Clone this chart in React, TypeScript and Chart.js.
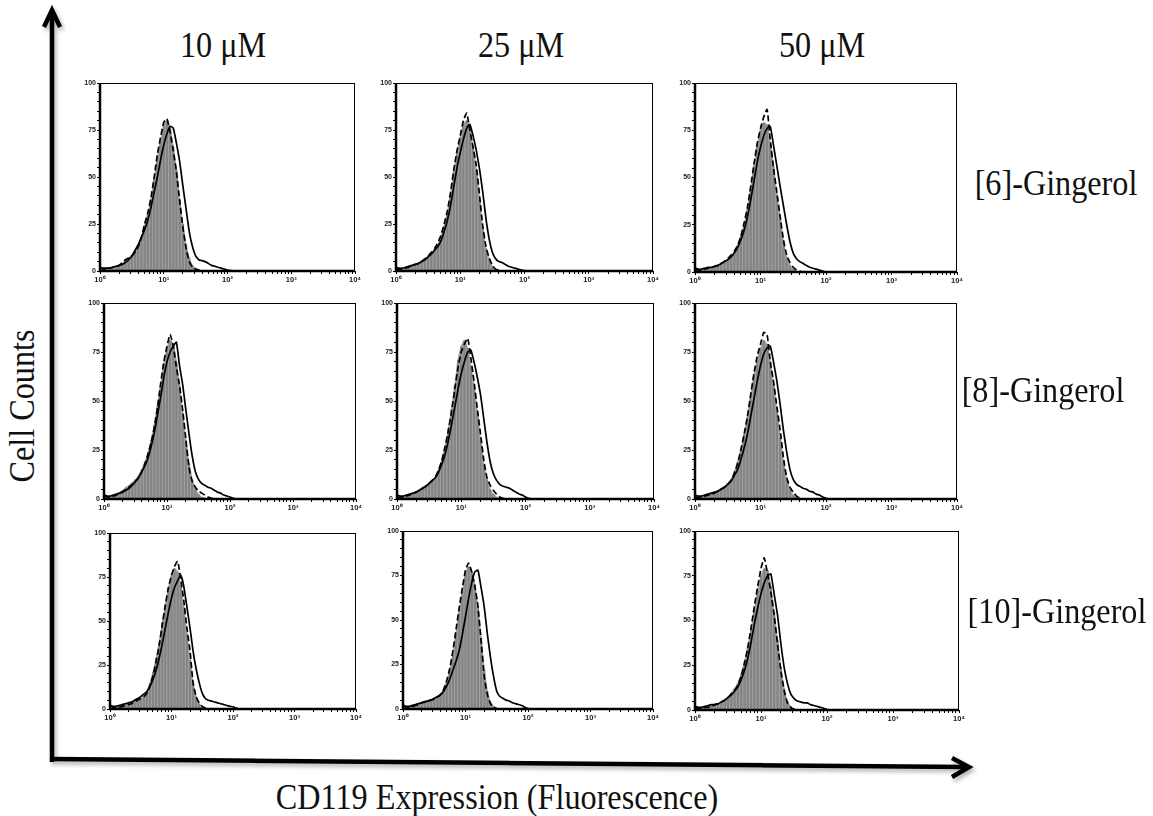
import React, { useEffect, useRef } from 'react';
import { Chart, registerables } from 'chart.js';

Chart.register(...registerables);

// ---------- data ----------
const CONCENTRATIONS = ['10 μM', '25 μM', '50 μM'];
const COMPOUNDS = ['[6]-Gingerol', '[8]-Gingerol', '[10]-Gingerol'];
const Y_TITLE = 'Cell Counts';
const X_TITLE = 'CD119 Expression (Fluorescence)';

// histogram bin centres (fluorescence, log-spaced channels)
const BIN_CENTERS = [1.0, 1.12, 1.26, 1.41, 1.58, 1.78, 2.0, 2.24, 2.51, 2.82, 3.16, 3.55, 3.98, 4.47, 5.01, 5.62, 6.31, 7.08, 7.94, 8.91, 10.0, 11.2, 12.6, 14.1, 15.8, 17.8, 20.0, 22.4, 25.1, 28.2, 31.6, 35.5, 39.8, 44.7, 50.1, 56.2, 63.1, 70.8, 79.4, 89.1, 100, 112, 126, 141, 158];

const X_TICK_VALUES = [1, 2, 3, 4, 5, 6, 7, 8, 9, 10, 20, 30, 40, 50, 60, 70, 80, 90, 100, 200, 300, 400, 500, 600, 700, 800, 900, 1000, 2000, 3000, 4000, 5000, 6000, 7000, 8000, 9000, 10000];
const X_TICK_LABELS: Record<number, string> = { 1: '10⁰', 10: '10¹', 100: '10²', 1000: '10³', 10000: '10⁴' };
const Y_TICK_VALUES = [0, 5, 10, 15, 20, 25, 30, 35, 40, 45, 50, 55, 60, 65, 70, 75, 80, 85, 90, 95, 100];
const Y_TICK_LABELS: Record<number, string> = { 0: '0', 25: '25', 50: '50', 75: '75', 100: '100' };

// [6]-Gingerol
const shaded_6_10 = [1, 1, 1.5, 1.5, 2, 2.5, 3, 4, 5.5, 7, 8.5, 11, 14, 18, 24, 30, 38, 49, 60, 69, 77, 80, 76, 66, 54, 38, 25, 14, 7, 3, 1.5, 0.5, 0.3, 0, 0, 0, 0, 0, 0, 0, 0, 0, 0, 0, 0];
const dashed_6_10 = [2, 1, 1, 1.5, 2, 2, 3, 4.5, 6, 7, 8, 10, 13, 18, 25, 31, 39, 50, 62, 71, 79, 81, 74, 64, 53, 37, 23, 12, 5, 2, 1, 0.5, 0, 0, 0, 0, 0, 0, 0, 0, 0, 0, 0, 0, 0];
const solid_6_10 = [2, 1.5, 1.5, 1.5, 2, 2.5, 3, 3.5, 4.5, 6, 8, 11, 14, 18, 22, 27, 34, 42, 50, 59, 67, 73, 77, 76, 68, 58, 45, 33, 21, 13, 8, 6, 5.5, 5, 4, 3, 2.5, 2, 1.5, 1, 0.5, 0.2, 0, 0, 0];

const shaded_6_25 = [2, 1, 1.5, 2, 2.5, 3, 3.5, 4.5, 5.5, 6.5, 8, 9.5, 11.5, 14, 18, 24, 31, 41, 53, 63, 71, 78, 80, 76, 66, 54, 38, 22, 12, 6, 2.5, 1, 0.5, 0, 0, 0, 0, 0, 0, 0, 0, 0, 0, 0, 0];
const dashed_6_25 = [1, 1, 1, 1.5, 2, 3, 3.5, 4, 5, 6.5, 8, 10, 12, 15, 19, 25, 32, 42, 54, 64, 72, 80, 84, 75, 66, 56, 40, 24, 13, 7, 3, 1, 0.5, 0, 0, 0, 0, 0, 0, 0, 0, 0, 0, 0, 0];
const solid_6_25 = [2, 1.5, 1.5, 2, 2.5, 3, 3.5, 4, 5, 6, 7.5, 9, 11, 13, 16, 21, 27, 35, 45, 55, 63, 70, 76, 78, 72, 64, 54, 42, 28, 17, 10, 6.5, 5, 4.5, 3.5, 2.5, 2, 1.5, 1, 0.5, 0.2, 0, 0, 0, 0];

const shaded_6_50 = [2, 1, 1, 1.5, 2, 2.5, 3, 3.5, 4.5, 5.5, 6.5, 8, 10.5, 14, 19, 25, 33, 44, 56, 67, 75, 79, 78, 68, 56, 41, 28, 16, 8, 3.5, 1.5, 0.5, 0, 0, 0, 0, 0, 0, 0, 0, 0, 0, 0, 0, 0];
const dashed_6_50 = [1, 1, 1, 1.5, 2, 2, 3, 3.5, 4.5, 5.5, 7, 9, 11, 14, 19, 26, 34, 45, 57, 68, 76, 82, 86, 70, 55, 42, 29, 17, 9, 5, 2.5, 1, 0.3, 0, 0, 0, 0, 0, 0, 0, 0, 0, 0, 0, 0];
const solid_6_50 = [2, 1.5, 1.5, 2, 2.5, 2.5, 3, 3.5, 4.5, 5.5, 6.5, 8, 10, 13, 17, 22, 29, 38, 48, 58, 66, 72, 76, 77, 67, 56, 45, 35, 25, 16, 10, 7, 5.5, 4.5, 3.5, 2.5, 2, 1.5, 1, 0.5, 0, 0, 0, 0, 0];

// [8]-Gingerol
const shaded_8_10 = [3, 1, 1.5, 2, 2.5, 3.5, 4.5, 6, 7, 8.5, 10, 12, 15, 19, 24, 30, 38, 48, 58, 69, 77, 81, 79, 70, 58, 44, 30, 18, 10, 5, 2.5, 1, 0.5, 0, 0, 0, 0, 0, 0, 0, 0, 0, 0, 0, 0];
const dashed_8_10 = [2, 1, 1, 1.5, 2, 3, 4, 5, 6, 7.5, 9, 11, 14, 18, 23, 29, 37, 47, 59, 70, 78, 84, 78, 67, 58, 45, 30, 16, 9, 6, 4, 3, 2, 1, 0.5, 0, 0, 0, 0, 0, 0, 0, 0, 0, 0];
const solid_8_10 = [2, 1.5, 1.5, 2, 2.5, 3, 3.5, 4.5, 5.5, 7, 9, 11, 14, 17, 21, 27, 34, 43, 52, 62, 70, 75, 78, 80, 68, 58, 45, 33, 22, 14, 10, 8, 7, 6, 5.5, 4.5, 3.5, 3, 2, 1.5, 1, 0.3, 0, 0, 0];

const shaded_8_25 = [2, 1, 1.5, 2, 2.5, 3, 4, 5, 6, 7, 8, 9.5, 11, 15, 20, 27, 36, 46, 58, 71, 78, 81, 77, 68, 58, 44, 30, 18, 10, 5, 2.5, 1, 0.3, 0, 0, 0, 0, 0, 0, 0, 0, 0, 0, 0, 0];
const dashed_8_25 = [1, 1, 1, 1.5, 2, 3, 3.5, 4.5, 5.5, 6.5, 8, 9.5, 11.5, 15, 20, 27, 35, 45, 56, 67, 75, 79, 82, 72, 60, 46, 33, 20, 11, 7, 4.5, 2.5, 1, 0.3, 0, 0, 0, 0, 0, 0, 0, 0, 0, 0, 0];
const solid_8_25 = [2, 1.5, 1.5, 2, 2.5, 3, 3.5, 4.5, 5.5, 6.5, 8, 9.5, 11, 14, 18, 23, 30, 38, 47, 56, 64, 70, 75, 76, 70, 62, 53, 41, 29, 19, 13, 9.5, 7.5, 6.5, 6, 5.5, 4.5, 3.5, 2.5, 2, 1, 0.3, 0, 0, 0];

const shaded_8_50 = [2, 1, 1.5, 2, 2.5, 3, 3.5, 4.5, 5.5, 6.5, 8, 10, 14, 19, 25, 33, 42, 53, 63, 71, 77, 81, 79, 70, 59, 45, 31, 19, 10, 5, 2, 1, 0, 0, 0, 0, 0, 0, 0, 0, 0, 0, 0, 0, 0];
const dashed_8_50 = [1, 1, 1, 1.5, 2, 2.5, 3, 4, 5, 6, 7.5, 9.5, 13, 18, 25, 33, 42, 53, 64, 73, 79, 85, 84, 70, 60, 47, 35, 21, 11, 6, 3.5, 1.5, 0.5, 0, 0, 0, 0, 0, 0, 0, 0, 0, 0, 0, 0];
const solid_8_50 = [2, 1.5, 1.5, 2, 2.5, 3, 3.5, 4, 5, 6, 7.5, 9, 12, 15, 20, 26, 33, 42, 51, 60, 68, 74, 77, 78, 70, 60, 48, 35, 24, 15, 10, 7.5, 6.5, 5.5, 5, 4, 3.5, 2.5, 2, 1, 0.3, 0, 0, 0, 0];

// [10]-Gingerol
const shaded_10_10 = [3, 1, 1, 1.5, 2, 2.5, 3, 3.5, 4.5, 5, 6, 7.5, 10, 15, 21, 29, 38, 49, 59, 69, 76, 80, 78, 70, 58, 43, 28, 15, 7, 3, 1.5, 0.5, 0, 0, 0, 0, 0, 0, 0, 0, 0, 0, 0, 0, 0];
const dashed_10_10 = [1.5, 1, 1, 1, 1.5, 2, 2.5, 3, 4, 5, 6, 7, 9, 13, 19, 27, 36, 48, 59, 69, 76, 81, 84, 74, 62, 46, 33, 15, 7, 3.5, 1.5, 0.5, 0, 0, 0, 0, 0, 0, 0, 0, 0, 0, 0, 0, 0];
const solid_10_10 = [2, 1.5, 1.5, 2, 2.5, 3, 3.5, 4, 5, 6, 7, 8.5, 10, 13, 17, 22, 29, 37, 46, 55, 63, 69, 73, 76, 70, 58, 46, 33, 23, 15, 9, 6, 5, 4.5, 4, 3.5, 3, 2.5, 2, 1.5, 1.3, 0.5, 0, 0, 0];

const shaded_10_25 = [3, 1, 1.5, 2, 2.5, 3, 4, 4.5, 5, 5.5, 6, 7, 8.5, 11, 15, 22, 31, 43, 54, 66, 76, 80, 77, 70, 57, 40, 22, 10, 4, 1.5, 0.5, 0, 0, 0, 0, 0, 0, 0, 0, 0, 0, 0, 0, 0, 0];
const dashed_10_25 = [1.5, 1, 1, 1.5, 2, 2.5, 3.5, 4, 4.5, 5, 5.5, 6.5, 8, 11, 16, 23, 33, 45, 57, 68, 78, 82, 77, 69, 58, 38, 18, 8, 3, 1, 0.3, 0, 0, 0, 0, 0, 0, 0, 0, 0, 0, 0, 0, 0, 0];
const solid_10_25 = [2, 1.5, 1.5, 2, 2.5, 3, 3.5, 4, 4.5, 5, 6, 7, 8, 10, 13, 17, 22, 27, 33, 42, 52, 62, 71, 77, 78, 68, 57, 42, 29, 18, 10, 7, 6, 5, 4.5, 3.5, 3, 2.5, 2, 1, 0.3, 0, 0, 0, 0];

const shaded_10_50 = [2, 1, 1.5, 2, 2, 2.5, 3, 3.5, 4, 5, 7, 9.5, 12, 15, 20, 27, 35, 45, 56, 67, 75, 79, 78, 69, 55, 39, 24, 12, 5, 2, 0.5, 0, 0, 0, 0, 0, 0, 0, 0, 0, 0, 0, 0, 0, 0];
const dashed_10_50 = [1, 1, 1, 1.5, 1.5, 2, 3, 3.5, 4.5, 5.5, 7, 9, 11, 14, 19, 26, 35, 46, 58, 69, 79, 85, 76, 66, 53, 37, 22, 11, 4, 1.5, 0.5, 0, 0, 0, 0, 0, 0, 0, 0, 0, 0, 0, 0, 0, 0];
const solid_10_50 = [2, 1.5, 1.5, 2, 2.5, 3, 3, 3.5, 4.5, 5.5, 7, 8.5, 10.5, 13, 17, 22, 29, 38, 48, 57, 65, 71, 75, 76, 65, 53, 37, 24, 15, 9, 6.5, 5, 4.5, 4, 4, 3, 2.5, 2, 1.5, 1, 0.3, 0, 0, 0, 0];

const PANEL_SERIES = [
  [[shaded_6_10, dashed_6_10, solid_6_10], [shaded_6_25, dashed_6_25, solid_6_25], [shaded_6_50, dashed_6_50, solid_6_50]],
  [[shaded_8_10, dashed_8_10, solid_8_10], [shaded_8_25, dashed_8_25, solid_8_25], [shaded_8_50, dashed_8_50, solid_8_50]],
  [[shaded_10_10, dashed_10_10, solid_10_10], [shaded_10_25, dashed_10_25, solid_10_25], [shaded_10_50, dashed_10_50, solid_10_50]],
];

// ---------- layout (plot-area boxes: left, top, right, bottom) ----------
const PANEL_BOXES = [
  [[100, 83, 355, 271], [396, 83, 653, 271], [695, 83, 957, 272]],
  [[104, 303, 356, 499], [397, 303, 654, 499], [695, 303, 957, 499]],
  [[110, 533, 356, 709], [403, 531, 653, 709], [695, 531, 959, 710]],
];
const YW = 24; // y-axis band
const XH = 16; // x-axis band
const PT = 8;
const PR = 10;

const SERIF = "'Liberation Serif', 'Times New Roman', 'DejaVu Serif', serif";
const SANS = "'Liberation Sans', Arial, sans-serif";

const framePlugin = {
  id: 'panelFrame',
  afterDatasetsDraw(chart: any) {
    const { ctx, chartArea: a } = chart;
    ctx.save();
    ctx.strokeStyle = '#000';
    ctx.lineWidth = 1;
    ctx.strokeRect(a.left + 0.5, a.top + 0.5, a.right - a.left - 1, a.bottom - a.top - 1);
    ctx.lineWidth = 2.5;
    ctx.beginPath();
    ctx.moveTo(a.left, a.top);
    ctx.lineTo(a.left, a.bottom);
    ctx.lineTo(a.right, a.bottom);
    ctx.stroke();
    ctx.restore();
  },
};

function Panel({ box, series }: { box: number[]; series: number[][] }) {
  const ref = useRef<HTMLCanvasElement>(null);
  const [L, T, R, B] = box;
  const w = R - L + YW + PR;
  const h = B - T + PT + XH;

  useEffect(() => {
    const canvas = ref.current;
    if (!canvas) return;
    const [shaded, dashed, solid] = series;
    const pts = (arr: number[]) => BIN_CENTERS.map((x, i) => ({ x, y: arr[i] }));
    const chart = new Chart(canvas, {
      type: 'line',
      data: {
        datasets: [
          {
            type: 'line',
            data: pts(solid),
            borderColor: '#000',
            borderWidth: 1.7,
            pointRadius: 0,
            fill: false,
            tension: 0.15,
            order: 0,
          } as any,
          {
            type: 'line',
            data: pts(dashed),
            borderColor: '#000',
            borderWidth: 1.7,
            borderDash: [6, 3],
            pointRadius: 0,
            fill: false,
            tension: 0.15,
            order: 1,
          } as any,
          {
            type: 'bar',
            data: pts(shaded),
            backgroundColor: '#848484',
            borderWidth: 0,
            barPercentage: 0.75,
            categoryPercentage: 1,
            order: 2,
          } as any,
          {
            type: 'line',
            data: pts(shaded),
            borderColor: '#999',
            borderWidth: 1,
            backgroundColor: '#a2a2a2',
            pointRadius: 0,
            fill: 'origin',
            tension: 0.15,
            order: 3,
          } as any,
        ],
      },
      options: {
        responsive: false,
        animation: false,
        devicePixelRatio: 1,
        events: [],
        layout: { padding: { top: PT, right: PR, left: 0, bottom: 0 } },
        plugins: { legend: { display: false }, tooltip: { enabled: false } },
        scales: {
          x: {
            type: 'logarithmic',
            min: 1,
            max: 10000,
            offset: false,
            afterBuildTicks: (scale: any) => {
              scale.ticks = X_TICK_VALUES.map((v) => ({ value: v, major: X_TICK_LABELS[v] !== undefined }));
            },
            afterFit: (scale: any) => {
              scale.height = XH;
            },
            ticks: {
              autoSkip: false,
              maxRotation: 0,
              minRotation: 0,
              padding: 1,
              color: '#222',
              font: { family: SANS, size: 7.5, weight: 'bold' },
              callback: (v: any) => (X_TICK_LABELS[v] !== undefined ? X_TICK_LABELS[v] : ''),
            },
            grid: { display: true, drawOnChartArea: false, drawTicks: true, tickLength: 3, color: '#000', lineWidth: 1, offset: false },
            border: { display: false },
          } as any,
          y: {
            type: 'linear',
            min: 0,
            max: 100,
            afterBuildTicks: (scale: any) => {
              scale.ticks = Y_TICK_VALUES.map((v) => ({ value: v }));
            },
            afterFit: (scale: any) => {
              scale.width = YW;
            },
            ticks: {
              autoSkip: false,
              padding: 1,
              color: '#222',
              font: { family: SANS, size: 7, weight: 'bold' },
              callback: (v: any) => (Y_TICK_LABELS[v] !== undefined ? Y_TICK_LABELS[v] : ''),
            },
            grid: { display: true, drawOnChartArea: false, drawTicks: true, tickLength: 3, color: '#000', lineWidth: 1 },
            border: { display: false },
          } as any,
        },
      },
      plugins: [framePlugin],
    } as any);
    return () => chart.destroy();
  }, []);

  return (
    <canvas
      ref={ref}
      width={w}
      height={h}
      style={{ position: 'absolute', left: L - YW, top: T - PT, width: w, height: h }}
    />
  );
}

const textStyle = (x: number, y: number, rotate = 0) => ({
  position: 'absolute' as const,
  left: x,
  top: y,
  transform: `translate(-50%, -50%) rotate(${rotate}deg) scaleX(0.92)`,
  fontFamily: SERIF,
  fontSize: 35,
  lineHeight: 1,
  whiteSpace: 'nowrap' as const,
  color: '#111',
});

const COL_TITLE_X = [223, 521, 822];
const ROW_LABEL_POS = [[1056, 183], [1043, 390], [1057, 611]];

export default function App() {
  return (
    <div style={{ position: 'absolute', left: 0, top: 0, width: 1153, height: 816, background: '#fff', overflow: 'hidden' }}>
      <svg width={1153} height={816} style={{ position: 'absolute', left: 0, top: 0 }}>
        <defs>
          <filter id="sh" x="-10%" y="-10%" width="120%" height="120%">
            <feDropShadow dx="2" dy="3" stdDeviation="2" floodColor="#000" floodOpacity="0.3" />
          </filter>
        </defs>
        <g filter="url(#sh)" stroke="#000" fill="none" strokeWidth={4.5} strokeLinejoin="miter">
          <line x1={52} y1={762} x2={52} y2={12} />
          <polyline points="44,27 52,10 60,27" />
          <line x1={50} y1={759} x2={966} y2={767} />
          <polyline points="952,758 969,767 952,777" />
        </g>
      </svg>
      {PANEL_BOXES.map((row, r) =>
        row.map((box, c) => <Panel key={`${r}-${c}`} box={box} series={PANEL_SERIES[r][c]} />)
      )}
      {CONCENTRATIONS.map((t, i) => (
        <div key={t} style={textStyle(COL_TITLE_X[i], 45)}>{t}</div>
      ))}
      {COMPOUNDS.map((t, i) => (
        <div key={t} style={textStyle(ROW_LABEL_POS[i][0], ROW_LABEL_POS[i][1])}>{t}</div>
      ))}
      <div style={textStyle(22, 406, -90)}>{Y_TITLE}</div>
      <div style={textStyle(497, 797)}>{X_TITLE}</div>
    </div>
  );
}
